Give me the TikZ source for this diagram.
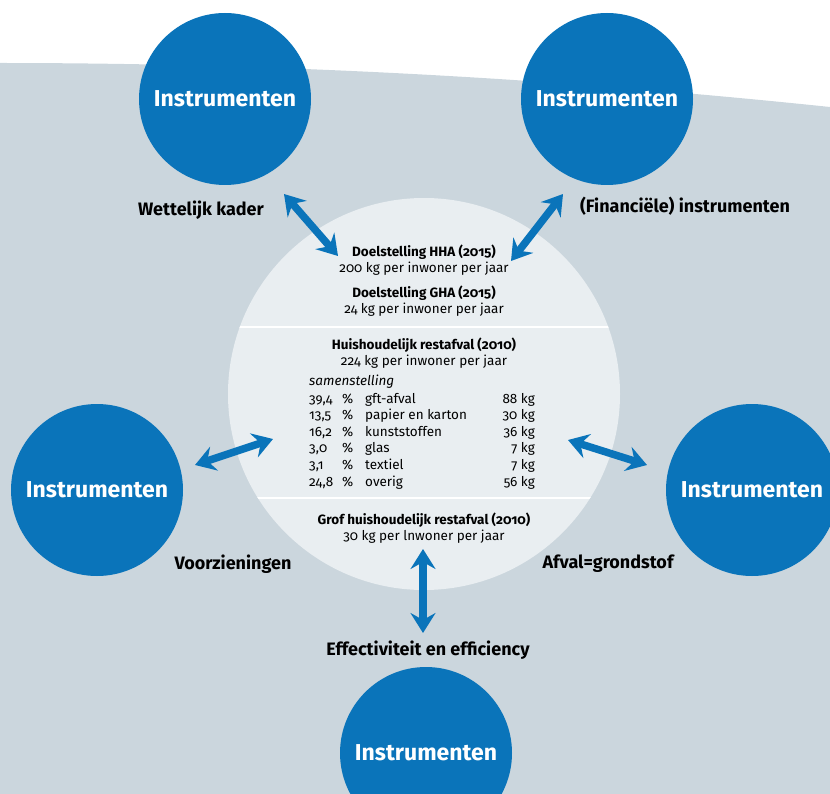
\documentclass[tikz,border=0pt]{standalone}
\usepackage{fontspec}
\setmainfont{Fira Sans}[Numbers=OldStyle]
\usetikzlibrary{arrows.meta}

\definecolor{instrblue}{RGB}{10,116,186}
\definecolor{bggrey}{RGB}{203,214,221}
\definecolor{coreface}{RGB}{233,238,241}

\tikzset{
  instrument/.style={circle,fill=instrblue,minimum size=172pt,inner sep=0pt,
    text=white,font=\bfseries\fontsize{23}{27}\selectfont},
  relation/.style={draw=instrblue,line width=7.5pt,
    {Stealth[length=20pt,width=25pt,inset=7pt]}-{Stealth[length=20pt,width=25pt,inset=7pt]}},
  linklabel/.style={anchor=base,inner sep=0pt,font=\bfseries\fontsize{18}{21}\selectfont},
  coretext/.style={anchor=base,inner sep=0pt,font=\fontsize{13.5}{16}\selectfont},
  corehead/.style={coretext,font=\bfseries\fontsize{13.5}{16}\selectfont},
}

\begin{document}
\begin{tikzpicture}[x=1pt,y=1pt,yscale=-1]
\useasboundingbox (0,0) rectangle (830,794);
\clip (0,0) rectangle (830,794);

%Shape: background band
\fill [bggrey] (0,63) .. controls (277,63) and (553,78) .. (830,107) -- (830,794) -- (0,794) -- cycle;

%Shape: central circle
\node [circle,fill=coreface,minimum size=392pt,inner sep=0pt] (core) at (424,394) {};
\begin{scope}
  \clip (core.center) circle (196);
  \draw [white,line width=1.5pt] (200,327) -- (650,327);
  \draw [white,line width=1.5pt] (200,498) -- (650,498);
\end{scope}

%Shape: instrument circles
\node [instrument] (instr-tl) at (225,99) {Instrumenten};
\node [instrument] (instr-tr) at (607,99) {Instrumenten};
\node [instrument] (instr-l) at (97,490) {Instrumenten};
\node [instrument] (instr-r) at (752,490) {Instrumenten};
\node [instrument] (instr-b) at (426,753) {Instrumenten};

%Straight Lines: double arrows
\coordinate (tl-out) at (284,194); \coordinate (tl-in) at (338,256);
\coordinate (tr-out) at (563,194); \coordinate (tr-in) at (511,261);
\coordinate (l-out) at (195,465);  \coordinate (l-in) at (273,439);
\coordinate (r-out) at (647,465);  \coordinate (r-in) at (568,440);
\coordinate (b-out) at (423,633);  \coordinate (b-in) at (423,549);
\draw [relation] (tl-out) -- (tl-in);
\draw [relation] (tr-out) -- (tr-in);
\draw [relation] (l-out) -- (l-in);
\draw [relation] (r-out) -- (r-in);
\draw [relation] (b-out) -- (b-in);

% Text Node: arrow labels
\node [linklabel] (wettelijk) at (201,216) {Wettelijk kader};
\node [linklabel] (financieel) at (685,213) {(Financiële) instrumenten};
\node [linklabel] (voorzieningen) at (233,569) {Voorzieningen};
\node [linklabel] (grondstof) at (608,568) {Afval=grondstof};
\node [linklabel] (effectiviteit) at (428,655) {Effectiviteit en efficiency};

% Text Node: targets
\node [corehead] (hha) at (424,257) {Doelstelling HHA (2015)};
\node [coretext] (hha-val) at (424,273) {200 kg per inwoner per jaar};
\node [corehead] (gha) at (424,298) {Doelstelling GHA (2015)};
\node [coretext] (gha-val) at (424,313) {24 kg per inwoner per jaar};

% Text Node: composition
\node [corehead] (rest) at (424,349) {Huishoudelijk restafval (2010)};
\node [coretext] (rest-val) at (424,366) {224 kg per inwoner per jaar};
\node [coretext,anchor=base west,font=\itshape\fontsize{13.5}{16}\selectfont] (samen) at (309,385) {samenstelling};
\foreach \pct/\part/\kg [count=\i, evaluate=\i as \y using 403+(\i-1)*16.6] in
  {{39,4}/gft-afval/88, {13,5}/papier en karton/30, {16,2}/kunststoffen/36,
   {3,0}/glas/7, {3,1}/textiel/7, {24,8}/overig/56}
{
  \node [coretext,anchor=base west] (pct-\i) at (309,\y) {\pct};
  \node [coretext,anchor=base west] (sign-\i) at (342,\y) {\%};
  \node [coretext,anchor=base west] (part-\i) at (365,\y) {\part};
  \node [coretext,anchor=base east] (kg-\i) at (535,\y) {\kg\ kg};
}

% Text Node: bulky waste
\node [corehead] (grof) at (424,524) {Grof huishoudelijk restafval (2010)};
\node [coretext] (grof-val) at (424,540) {30 kg per lnwoner per jaar};

\end{tikzpicture}
\end{document}
